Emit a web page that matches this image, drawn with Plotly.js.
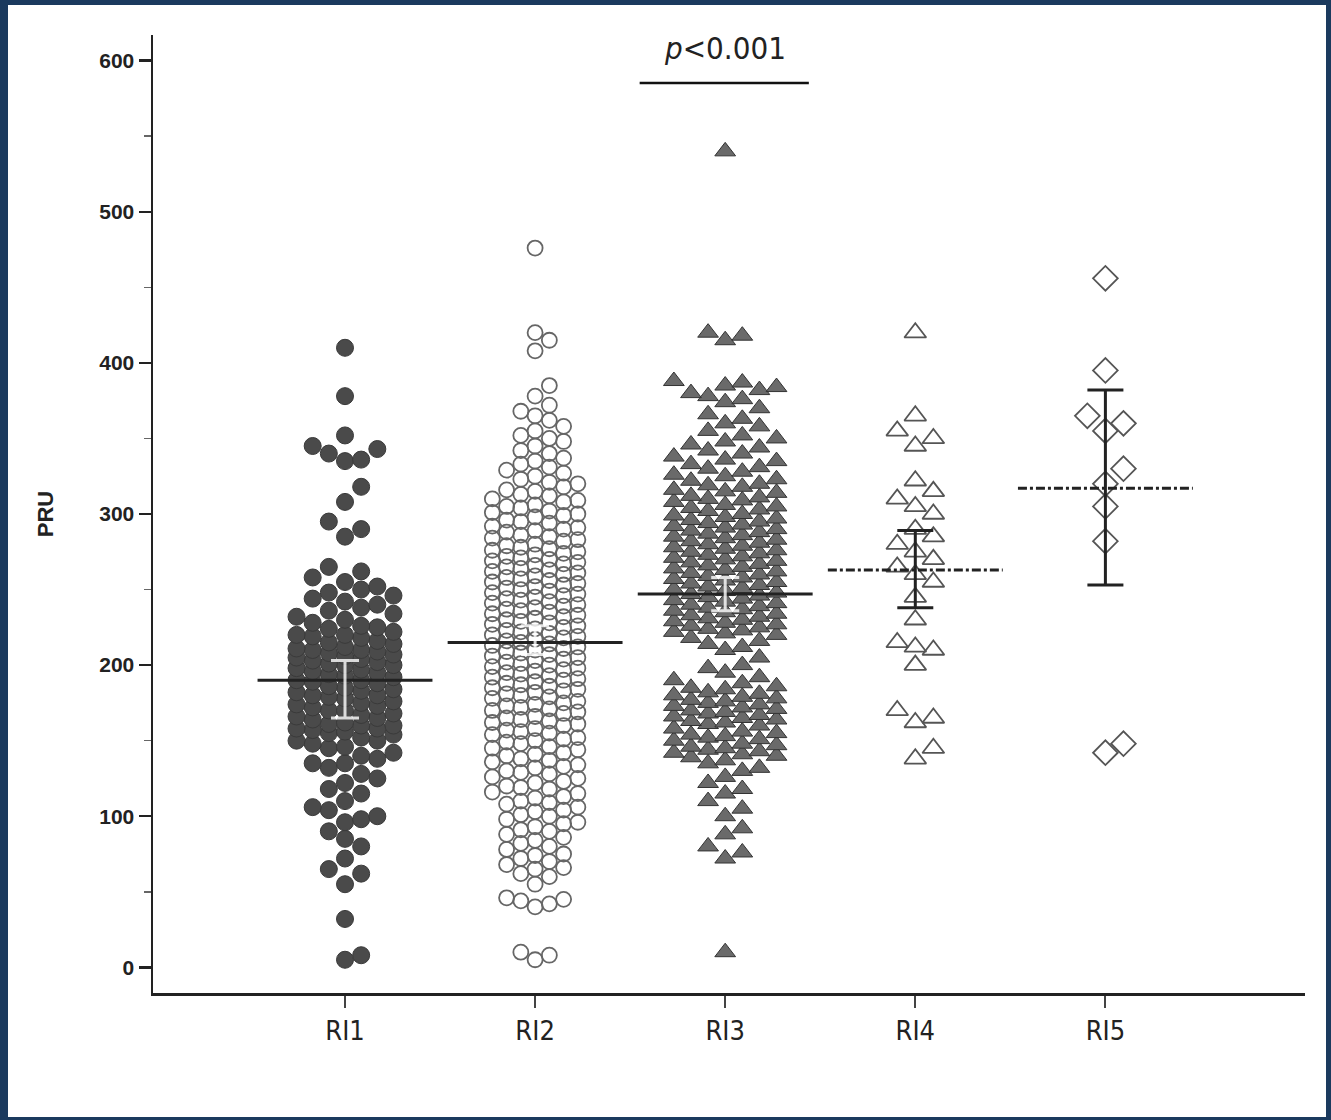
<!DOCTYPE html>
<html>
<head>
<meta charset="utf-8">
<script src="https://cdn.plot.ly/plotly-3.0.1.min.js"></script>
<style>
body { margin: 0; background: #1b3a5e; width: 1331px; height: 1120px; overflow: hidden; }
#chart { position: absolute; left: 8px; top: 5px; width: 1318px; height: 1112px; background: #fff; }
</style>
</head>
<body>
<div id="chart"></div>
<script>
let categories = ["RI1", "RI2", "RI3", "RI4", "RI5"];

let ri1 = [5, 8, 32, 55, 62, 65, 72, 80, 85, 90, 96, 98, 100, 104, 106, 110, 115, 118, 122, 125, 128, 132, 135, 135, 138, 140,
    142, 145, 146, 148, 150, 150, 152, 154, 155, 156, 157, 158, 158, 160, 160, 161, 162, 164, 165, 166, 167, 168, 170, 170, 172,
    173, 174, 175, 176, 178, 179, 180, 180, 182, 183, 184, 185, 186, 188, 189, 190, 190, 192, 193, 194, 195, 196, 197, 198, 200,
    200, 201, 202, 203, 204, 205, 206, 207, 208, 209, 210, 210, 211, 212, 214, 215, 216, 218, 219, 220, 220, 222, 224, 225, 226,
    228, 230, 232, 234, 236, 238, 240, 242, 244, 246, 248, 250, 252, 255, 258, 262, 265, 285, 290, 295, 308, 318, 335, 336, 340,
    343, 345, 352, 378, 410];

let ri2 = [5, 8, 10, 40, 42, 44, 45, 46, 55, 60, 62, 65, 66, 68, 70, 72, 74, 75, 78, 80, 82, 84, 86, 88, 90, 91, 93, 95, 96, 98,
    100, 101, 103, 104, 106, 108, 109, 110, 112, 113, 115, 116, 118, 119, 120, 122, 123, 125, 126, 128, 129, 130, 132, 133, 134,
    136, 137, 138, 140, 141, 142, 144, 145, 146, 148, 149, 150, 151, 152, 154, 155, 156, 157, 158, 160, 161, 162, 163, 164, 165,
    166, 168, 169, 170, 171, 172, 173, 174, 175, 176, 178, 179, 180, 181, 182, 183, 184, 185, 186, 187, 188, 189, 190, 191, 192,
    193, 194, 195, 196, 197, 198, 199, 200, 201, 202, 203, 204, 205, 206, 207, 208, 209, 210, 211, 212, 213, 214, 215, 216, 217,
    218, 219, 220, 221, 222, 223, 224, 225, 226, 227, 228, 229, 230, 231, 232, 233, 234, 235, 236, 237, 238, 239, 240, 241, 242,
    243, 244, 245, 246, 247, 248, 249, 250, 251, 252, 253, 254, 255, 256, 257, 258, 259, 260, 261, 262, 263, 264, 265, 266, 267,
    268, 269, 270, 271, 272, 273, 274, 275, 276, 277, 278, 279, 280, 282, 283, 284, 285, 286, 288, 289, 290, 291, 292, 294, 295,
    296, 298, 299, 300, 301, 302, 304, 305, 306, 308, 309, 310, 312, 313, 315, 316, 318, 320, 321, 323, 325, 327, 329, 331, 333,
    335, 337, 340, 342, 345, 348, 350, 352, 355, 358, 362, 365, 368, 372, 378, 385, 408, 415, 420, 476];

let ri3 = [10, 72, 76, 80, 88, 92, 100, 105, 110, 115, 118, 122, 126, 130, 132, 135, 137, 139, 140, 141, 142, 143, 144, 145, 146,
    147, 148, 150, 151, 152, 153, 154, 155, 156, 158, 160, 161, 162, 163, 164, 165, 166, 167, 168, 169, 170, 171, 172, 173, 174,
    175, 176, 177, 178, 179, 180, 181, 182, 184, 185, 186, 188, 190, 192, 195, 198, 200, 205, 210, 212, 214, 216, 218, 220, 221,
    222, 223, 224, 225, 226, 227, 228, 229, 230, 231, 232, 233, 234, 235, 236, 237, 238, 239, 240, 241, 242, 243, 244, 245, 246,
    247, 248, 249, 250, 251, 252, 253, 254, 255, 256, 257, 258, 259, 260, 261, 262, 263, 264, 265, 266, 267, 268, 269, 270, 271,
    272, 273, 274, 275, 276, 277, 278, 279, 280, 281, 282, 283, 284, 285, 286, 287, 288, 289, 290, 291, 292, 293, 294, 295, 296,
    297, 298, 299, 300, 302, 303, 304, 305, 306, 308, 309, 310, 311, 312, 314, 315, 316, 318, 319, 320, 322, 323, 325, 326, 328,
    330, 331, 333, 335, 336, 338, 340, 342, 344, 346, 348, 350, 352, 355, 358, 360, 363, 366, 370, 374, 376, 378, 380, 382, 384,
    385, 387, 388, 415, 418, 420, 540];

let ri4 = [138, 145, 162, 165, 170, 200, 210, 212, 215, 230, 245, 255, 260, 265, 270, 275, 280, 285, 290, 300, 305, 310, 315, 322,
    345, 350, 355, 365, 420];

let ri5 = [142, 148, 282, 305, 320, 330, 355, 360, 365, 395, 456];

let means = [190, 215, 247, 263, 317];
let ci_low = [165, 207, 236, 238, 253];
let ci_high = [203, 226, 258, 289, 382];

// layout px helpers (plot area ~1152 px wide for 6.06 units, ~958 px tall for 634 units)
let px_per_x = 190, px_per_y = 1.511;

function swarm(values, idx, size, cols) {
    let sorted = values.slice().sort(function (a, b) { return a - b });
    let step = size * 0.95;
    let offsets = [0];
    for (let k = 1; k <= cols; k++) { offsets.push(k * step); offsets.push(-k * step); }
    let last = offsets.map(function () { return -1e9 });
    let xs = [], ys = [];
    for (let i = 0; i < sorted.length; i++) {
        let ypx = sorted[i] * px_per_y;
        let best = -1;
        for (let k = 0; k < offsets.length; k++) {
            if (ypx - last[k] >= size * 0.9) { best = k; break; }
        }
        if (best == -1) {
            let lo = 1e9;
            for (let k = 0; k < offsets.length; k++) {
                if (last[k] < lo) { lo = last[k]; best = k; }
            }
        }
        last[best] = ypx;
        xs.push(idx + offsets[best] / px_per_x);
        ys.push(sorted[i]);
    }
    return { x: xs, y: ys };
}

let data = [];
function addSwarm(values, idx, size, cols, marker) {
    let s = swarm(values, idx, size, cols);
    marker.size = size;
    data.push({ x: s.x, y: s.y, type: "scatter", mode: "markers", marker: marker, hoverinfo: "y", showlegend: false });
}

addSwarm(ri1, 0, 17, 3, { symbol: "circle", color: "#4a4a4a", line: { color: "#3a3a3a", width: 1 } });
addSwarm(ri2, 1, 15, 3, { symbol: "circle-open", color: "#666", line: { width: 1.8 } });
addSwarm(ri3, 2, 18, 3, { symbol: "triangle-up", color: "#6a6a6a", line: { color: "#333", width: 1 } });
addSwarm(ri4, 3, 19, 2, { symbol: "triangle-up-open", color: "#555", line: { width: 1.8 } });
addSwarm(ri5, 4, 19, 1, { symbol: "diamond-open", color: "#555", line: { width: 1.8 } });

for (let i = 0; i < means.length; i++) {
    let dashed = i >= 3;
    data.push({
        x: [i - 0.46, i + 0.46], y: [means[i], means[i]], type: "scatter", mode: "lines",
        line: { color: "#222", width: 3, dash: dashed ? "dashdot" : "solid" }, showlegend: false, hoverinfo: "skip"
    });
    data.push({
        x: [i], y: [means[i]], type: "scatter", mode: "markers", marker: { size: 1, color: "rgba(0,0,0,0)" },
        error_y: { type: "data", symmetric: false, array: [ci_high[i] - means[i]], arrayminus: [means[i] - ci_low[i]],
            color: i >= 3 ? "#222" : "rgba(255,255,255,0.8)", thickness: 3, width: i >= 3 ? 18 : 14 },
        showlegend: false, hoverinfo: "skip"
    });
}

let layout = {
    width: 1318, height: 1112,
    margin: { l: 145, r: 21, t: 30, b: 124 },
    paper_bgcolor: "#fff", plot_bgcolor: "#fff",
    font: { family: "Liberation Sans, Arial, sans-serif", color: "#222" },
    xaxis: {
        range: [-1.01, 5.05], tickvals: [0, 1, 2, 3, 4], ticktext: categories, showgrid: false, zeroline: false,
        showline: true, linecolor: "#222", linewidth: 2.5, ticks: "outside", ticklen: 12, tickwidth: 2, tickcolor: "#444",
        tickfont: { size: 27, family: "DejaVu Sans Condensed, Liberation Sans Narrow, sans-serif", color: "#222" }
    },
    yaxis: {
        range: [-17, 617], tickvals: [0, 100, 200, 300, 400, 500, 600], showgrid: false, zeroline: false,
        showline: true, linecolor: "#222", linewidth: 2.5, ticks: "outside", ticklen: 12, tickwidth: 2.5, tickcolor: "#222",
        tickfont: { size: 21, color: "#222", weight: "bold" },
        minor: { tickvals: [50, 150, 250, 350, 450, 550], ticks: "outside", ticklen: 7, tickwidth: 1.5, tickcolor: "#666" },
        title: { text: "<b>PRU</b>", font: { size: 22 }, standoff: 40 }
    },
    shapes: [
        { type: "line", xref: "x", yref: "paper", x0: 1.55, x1: 2.44, y0: 0.95, y1: 0.95, line: { color: "#111", width: 2.5 } }
    ],
    annotations: [
        { xref: "x", yref: "paper", x: 2.0, y: 0.986, yanchor: "middle", showarrow: false,
          text: "<i>p</i><0.001", font: { size: 31, color: "#222", family: "DejaVu Sans Condensed, sans-serif" } }
    ]
};

Plotly.newPlot("chart", data, layout, { staticPlot: true });
</script>
</body>
</html>
